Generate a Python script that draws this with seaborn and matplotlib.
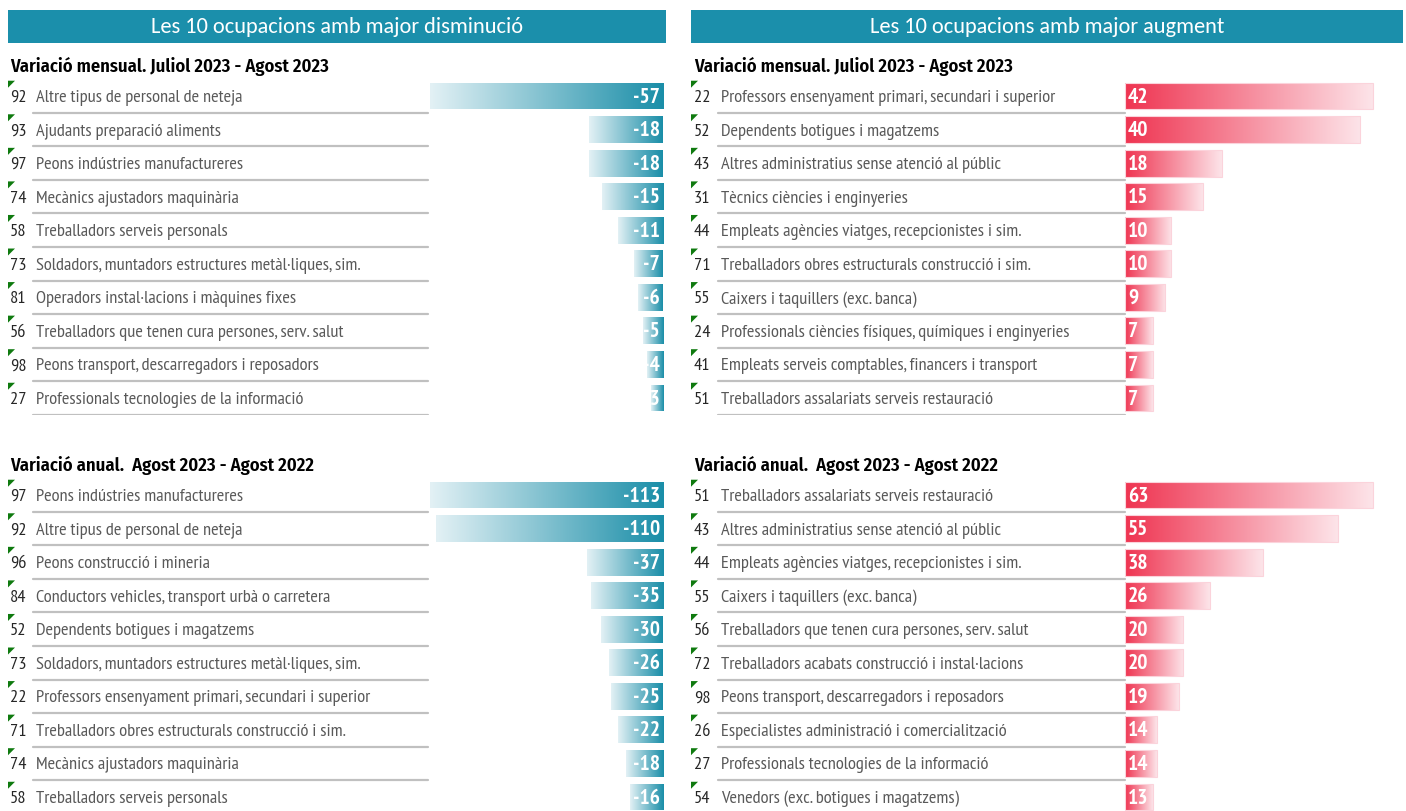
import numpy as np
import pandas as pd
import matplotlib
matplotlib.use("Agg")
import matplotlib.pyplot as plt
import seaborn as sns
from matplotlib.colors import LinearSegmentedColormap
from matplotlib.patches import Rectangle, Polygon

# Dades: variació mensual (juliol 2023 - agost 2023)
mes_baixa_codi = ["92", "93", "97", "74", "58", "73", "81", "56", "98", "27"]
mes_baixa_nom = ["Altre tipus de personal de neteja", "Ajudants preparació aliments",
                 "Peons indústries manufactureres", "Mecànics ajustadors maquinària",
                 "Treballadors serveis personals", "Soldadors, muntadors estructures metàl·liques, sim.",
                 "Operadors instal·lacions i màquines fixes", "Treballadors que tenen cura persones, serv. salut",
                 "Peons transport, descarregadors i reposadors", "Professionals tecnologies de la informació"]
mes_baixa_val = [-57, -18, -18, -15, -11, -7, -6, -5, -4, -3]

mes_puja_codi = ["22", "52", "43", "31", "44", "71", "55", "24", "41", "51"]
mes_puja_nom = ["Professors ensenyament primari, secundari i superior", "Dependents botigues i magatzems",
                "Altres administratius sense atenció al públic", "Tècnics ciències i enginyeries",
                "Empleats agències viatges, recepcionistes i sim.", "Treballadors obres estructurals construcció i sim.",
                "Caixers i taquillers (exc. banca)", "Professionals ciències físiques, químiques i enginyeries",
                "Empleats serveis comptables, financers i transport", "Treballadors assalariats serveis restauració"]
mes_puja_val = [42, 40, 18, 15, 10, 10, 9, 7, 7, 7]

# Dades: variació anual (agost 2023 - agost 2022)
any_baixa_codi = ["97", "92", "96", "84", "52", "73", "22", "71", "74", "58"]
any_baixa_nom = ["Peons indústries manufactureres", "Altre tipus de personal de neteja",
                 "Peons construcció i mineria", "Conductors vehicles, transport urbà o carretera",
                 "Dependents botigues i magatzems", "Soldadors, muntadors estructures metàl·liques, sim.",
                 "Professors ensenyament primari, secundari i superior", "Treballadors obres estructurals construcció i sim.",
                 "Mecànics ajustadors maquinària", "Treballadors serveis personals"]
any_baixa_val = [-113, -110, -37, -35, -30, -26, -25, -22, -18, -16]

any_puja_codi = ["51", "43", "44", "55", "56", "72", "98", "26", "27", "54"]
any_puja_nom = ["Treballadors assalariats serveis restauració", "Altres administratius sense atenció al públic",
                "Empleats agències viatges, recepcionistes i sim.", "Caixers i taquillers (exc. banca)",
                "Treballadors que tenen cura persones, serv. salut", "Treballadors acabats construcció i instal·lacions",
                "Peons transport, descarregadors i reposadors", "Especialistes administració i comercialització",
                "Professionals tecnologies de la informació", "Venedors (exc. botigues i magatzems)"]
any_puja_val = [63, 55, 38, 26, 20, 20, 19, 14, 14, 13]

titol_baixa = "Les 10 ocupacions amb major disminució"
titol_puja = "Les 10 ocupacions amb major augment"
sub_mes = "Variació mensual. Juliol 2023 - Agost 2023"
sub_any = "Variació anual.  Agost 2023 - Agost 2022"

# Layout (pixels)
W, H = 1406, 811
ROW = 33.56
TEAL = "#1b8fab"
LINE = "#c0c0c0"
MIN_FRAC = 0.111  # Excel data bars: shortest bar gets ~11% of the longest

sns.set_theme(style="white")
NARROW = ["PT Sans Narrow", "DejaVu Sans"]
plt.rcParams["font.family"] = NARROW

cmap_teal = LinearSegmentedColormap.from_list("teal", ["#e3f1f5", "#1a8ea8"])
cmap_red = LinearSegmentedColormap.from_list("red", ["#ef3451", "#fde4e9"])

fig = plt.figure(figsize=(W / 100, H / 100), dpi=100)


def px_axes(x0, x1, y0, y1):
    return fig.add_axes([x0 / W, 1 - y1 / H, (x1 - x0) / W, (y1 - y0) / H])


def px(x, y):
    return (x / 100, (H - y) / 100)


def gradient_bars(ax, cmap, edge="none"):
    for p in list(ax.patches):
        b = p.get_bbox()
        x0, x1 = sorted([b.x0, b.x1])
        y0, y1 = sorted([b.y0, b.y1])
        im = ax.imshow(np.linspace(0, 1, 256).reshape(1, -1), extent=[x0, x1, y1, y0],
                       aspect="auto", cmap=cmap, interpolation="bilinear", zorder=2)
        im.set_clip_path(p)
        p.set_facecolor("none")
        p.set_edgecolor(edge)
        p.set_linewidth(0.8)
        p.set_zorder(3)


def panel(codes, names, vals, left, top, bottom):
    n = len(vals)
    if left:
        x0, x1, zero, bar_px = 8, 663, 663, 233.5
        line_a, line_b = 33, 428
        code_dx, name_dx = 2, 28
        lengths = list(vals)
    else:
        x0, x1, zero, bar_px = 691, 1403, 1125, 248
        line_a, line_b = 718, 1125
        code_dx, name_dx = 3, 30
        vmin, vmax = min(vals), max(vals)
        base = vmin - MIN_FRAC / (1 - MIN_FRAC) * (vmax - vmin)
        lengths = [v - base for v in vals]
    ax = px_axes(x0, x1, top, bottom)

    df = pd.DataFrame({"nom": [f"{c} {s}" for c, s in zip(codes, names)], "len": lengths})
    sns.barplot(data=df, x="len", y="nom", orient="h", width=0.8, color=TEAL,
                errorbar=None, ax=ax)
    gradient_bars(ax, cmap_teal if left else cmap_red, "none" if left else "#fbd3db")

    ppu = bar_px / max(abs(l) for l in lengths)
    ax.set_xlim(-(zero - x0) / ppu, (x1 - zero) / ppu)
    ax.set_ylim(-0.5 + (bottom - top) / ROW, -0.5)
    ax.axis("off")

    ytr = ax.get_yaxis_transform()
    for i in range(n):
        ax.annotate(codes[i], xy=(0, i), xycoords=ytr, xytext=(code_dx, -2),
                    textcoords="offset pixels", ha="left", va="center",
                    fontsize=13.2, color="#262626", annotation_clip=False)
        ax.annotate(names[i], xy=(0, i), xycoords=ytr, xytext=(name_dx, -2),
                    textcoords="offset pixels", ha="left", va="center",
                    fontsize=13.2, color="#595959", annotation_clip=False)
        ax.annotate(f"{vals[i]}", xy=(0, i), xytext=(-3 if left else 3, -1),
                    textcoords="offset pixels", ha="right" if left else "left",
                    va="center", fontsize=15.5, fontweight="bold", color="white", zorder=5)
        ax.axhline(i + 0.5, xmin=(line_a - x0) / (x1 - x0), xmax=(line_b - x0) / (x1 - x0),
                   color=LINE, lw=1.6, zorder=1)
        # green corner marks (Excel indicator)
        ty = top + i * ROW + 1.5
        fig.add_artist(Polygon([px(x0, ty), px(x0 + 7, ty), px(x0, ty + 7)], closed=True,
                               transform=fig.dpi_scale_trans, color="#0f7a0f", lw=0))
    return ax


# headers
for (a, b), t in [((8, 666), titol_baixa), ((691, 1403), titol_puja)]:
    fig.add_artist(Rectangle(px(a, 43), (b - a) / 100, 33 / 100,
                             transform=fig.dpi_scale_trans, color=TEAL, lw=0))
    fig.text((a + b) / 2 / W, 1 - 27 / H, t, ha="center", va="center", color="white",
             fontsize=16.1, family=["Carlito", "DejaVu Sans"])

SUB_FONT = ["Fira Sans Condensed", "DejaVu Sans"]
for x in (10, 694):
    fig.text(x / W, 1 - 66 / H, sub_mes, ha="left", va="center", fontsize=13.4,
             fontweight=600, color="black", family=SUB_FONT)
    fig.text(x / W, 1 - 465 / H, sub_any, ha="left", va="center", fontsize=13.4,
             fontweight=600, color="black", family=SUB_FONT)

top_m = 96 - ROW / 2
top_a = 495 - ROW / 2
panel(mes_baixa_codi, mes_baixa_nom, mes_baixa_val, True, top_m, top_m + 10 * ROW)
panel(mes_puja_codi, mes_puja_nom, mes_puja_val, False, top_m, top_m + 10 * ROW)
panel(any_baixa_codi, any_baixa_nom, any_baixa_val, True, top_a, H)
panel(any_puja_codi, any_puja_nom, any_puja_val, False, top_a, H)

fig.savefig("out.png", dpi=100)
